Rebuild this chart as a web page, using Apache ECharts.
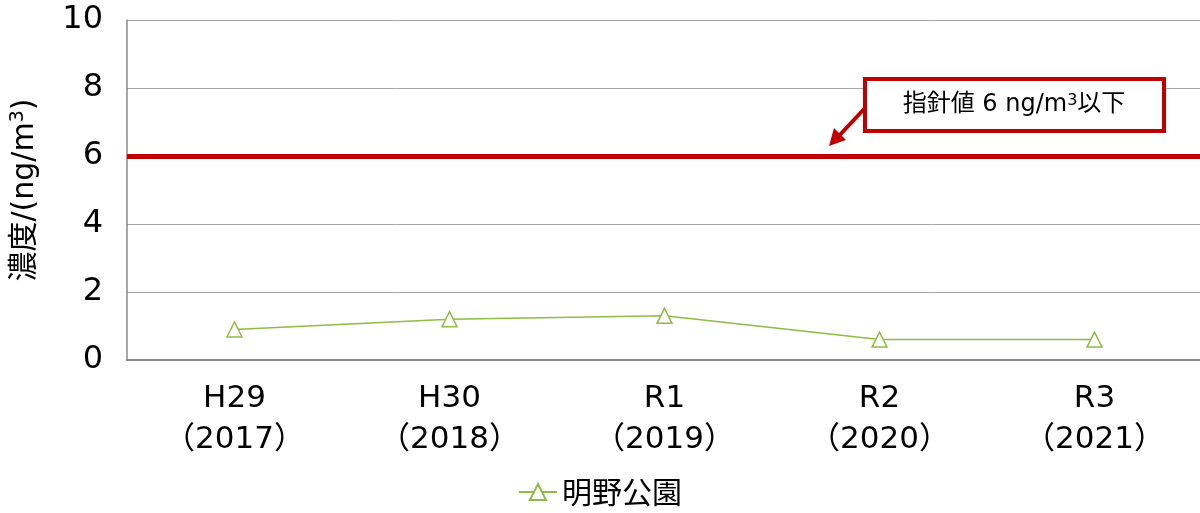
<!DOCTYPE html>
<html><head><meta charset="utf-8">
<script src="https://cdn.jsdelivr.net/npm/echarts@6/dist/echarts.min.js"></script>
<style>html,body{margin:0;padding:0;background:#fff}#c{width:1200px;height:513px}</style>
</head><body><div id="c"></div>
<script>
const categories = ['H29\n（2017）','H30\n（2018）','R1\n（2019）','R2\n（2020）','R3\n（2021）'];
const seriesName = '明野公園';
const values = [0.9, 1.2, 1.3, 0.6, 0.6];
const guideline = 6;
const yTicks = [0, 2, 4, 6, 8, 10];
const FONT = '"DejaVu Sans", "Noto Sans CJK JP", sans-serif';
const CJK = '"Noto Sans CJK JP", sans-serif';

const chart = echarts.init(document.getElementById('c'));
chart.setOption({
  animation: false,
  grid: {left: 127, top: 20, right: -2, bottom: 153, outerBoundsMode: 'none', containLabel: false},
  legend: {
    bottom: 1, left: 'center',
    itemWidth: 38, itemHeight: 20, itemGap: 10,
    textStyle: {fontFamily: CJK, fontSize: 30, color: '#000'},
    data: [seriesName]
  },
  xAxis: {
    type: 'category', data: categories, boundaryGap: true,
    axisLine: {lineStyle: {color: '#888', width: 2}},
    axisTick: {show: false},
    axisLabel: {fontFamily: FONT, fontSize: 31, color: '#000', lineHeight: 41, margin: 18, interval: 0}
  },
  yAxis: {
    type: 'value', min: yTicks[0], max: yTicks[yTicks.length-1], interval: 2,
    name: '濃度/(ng/m{s|3})',
    nameLocation: 'middle', nameGap: 86, nameRotate: 90,
    nameTextStyle: {fontFamily: FONT, fontSize: 30, color: '#000',
      rich: {s: {fontSize: 19, verticalAlign: 'top', padding: [0,0,13,0], fontFamily: FONT}}},
    axisLine: {show: true, lineStyle: {color: '#888', width: 1.5}},
    axisTick: {show: false},
    splitLine: {lineStyle: {color: '#a6a6a6', width: 1}},
    axisLabel: {fontFamily: FONT, fontSize: 32, color: '#000', margin: 24}
  },
  series: [{
    name: seriesName, type: 'line', data: values,
    symbol: 'triangle', symbolSize: 15,
    itemStyle: {color: '#fff', borderColor: '#8fbc44', borderWidth: 1.5},
    lineStyle: {color: '#8fbc44', width: 1.5},
    markLine: {
      silent: true, symbol: ['none','none'],
      label: {show: false},
      lineStyle: {color: '#c00000', width: 5, type: 'solid'},
      data: [{yAxis: guideline}]
    }
  }]
});

chart.setOption({
  graphic: [
    {type: 'line', shape: {x1: 866, y1: 107, x2: 836, y2: 139},
     style: {stroke: '#c00000', lineWidth: 4}, z: 10},
    {type: 'polygon', shape: {points: [[829,146],[834,128],[846,140]]},
     style: {fill: '#c00000'}, z: 10},
    {type: 'rect', shape: {x: 865, y: 79, width: 299, height: 52},
     style: {fill: '#fff', stroke: '#c00000', lineWidth: 4}, z: 10},
    {type: 'text', x: 1014, y: 105, z: 11,
     style: {text: '指針値 6 ng/m{s|3}以下', font: '24px ' + FONT, fill: '#000',
       align: 'center', verticalAlign: 'middle',
       rich: {s: {fontSize: 16, verticalAlign: 'top', padding: [0,0,9,0], fontFamily: FONT}}}}
  ]
});
</script></body></html>
